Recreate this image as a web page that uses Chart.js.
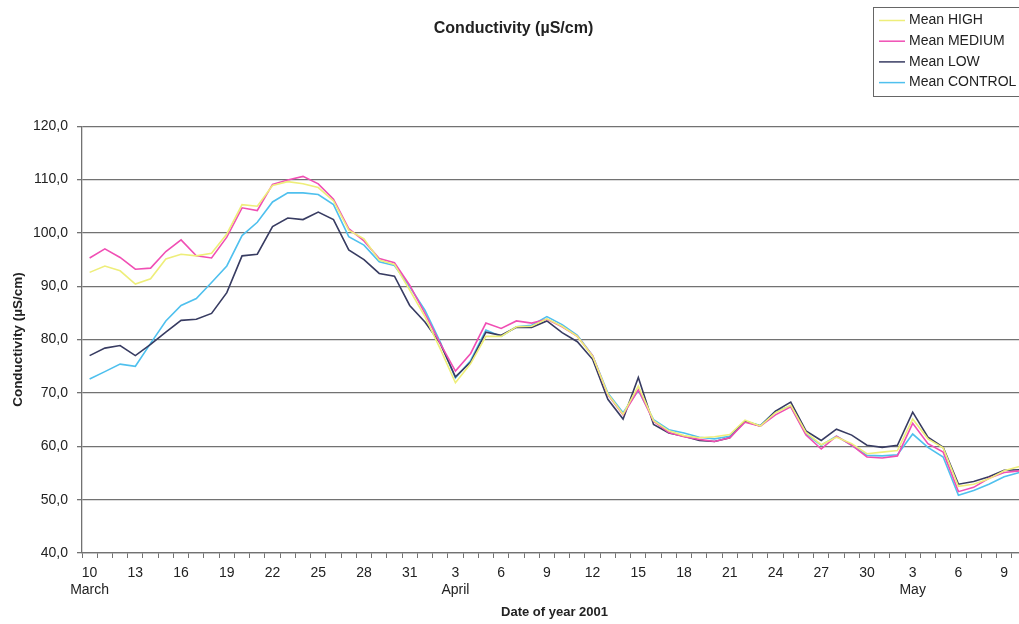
<!DOCTYPE html>
<html>
<head>
<meta charset="utf-8">
<script src="https://cdn.jsdelivr.net/npm/chart.js@4/dist/chart.umd.min.js"></script>
<style>
    html, body { margin:0; padding:0; background:#fff; overflow:hidden; }
    #wrap { width:1035px; height:624px; }
</style>
</head>
<body>
<div id="wrap"><canvas id="cv" width="1035" height="624"></canvas></div>
<script>
// day of month for each sample, 10 March .. 10 May 2001
var days = [10,11,12,13,14,15,16,17,18,19,20,21,22,23,24,25,26,27,28,29,30,31,
            1,2,3,4,5,6,7,8,9,10,11,12,13,14,15,16,17,18,19,20,21,22,23,24,25,26,27,28,29,30,
            1,2,3,4,5,6,7,8,9,10];
// month written under the first label of each month
var monthLabels = {0:"March", 24:"April", 54:"May"};

var meanHigh = [92.6,93.8,92.9,90.4,91.4,95.1,96.0,95.7,96.2,99.8,105.3,105.0,108.9,109.6,109.2,108.5,106.0,
    100.5,98.9,94.9,94.1,89.3,84.3,78.3,71.9,75.5,80.6,80.6,82.4,82.5,83.9,82.5,80.6,76.9,69.8,66.0,71.3,
    64.8,62.9,62.0,61.6,61.8,62.2,64.9,63.8,66.3,67.7,62.6,60.3,61.7,60.5,58.6,58.9,59.2,65.1,61.4,59.7,
    52.5,52.9,53.9,55.4,56.2];
var meanMedium = [95.3,97.0,95.4,93.2,93.4,96.5,98.7,95.7,95.3,99.2,104.7,104.2,109.1,109.9,110.6,109.2,106.3,
    100.8,98.5,95.2,94.4,90.2,84.9,79.3,74.1,77.4,83.1,82.1,83.5,83.1,83.8,82.4,80.6,77.0,69.7,65.9,70.6,
    64.7,62.6,61.8,61.3,60.9,61.6,64.5,63.8,65.9,67.4,62.1,59.5,61.9,60.2,58.0,57.8,58.2,64.3,60.5,58.9,
    51.5,52.3,54.0,55.1,55.4];
var meanLow = [77.0,78.4,78.9,77.0,79.1,81.4,83.6,83.8,84.9,88.8,95.7,96.0,101.2,102.8,102.5,103.9,102.5,
    96.8,95.0,92.4,91.9,86.4,83.3,79.3,73.0,75.8,81.4,80.8,82.3,82.3,83.5,81.3,79.6,76.3,68.8,65.1,72.9,
    64.1,62.5,61.9,61.1,60.9,61.6,64.7,63.8,66.6,68.3,62.9,61.1,63.2,62.1,60.2,59.8,60.2,66.4,61.7,59.8,
    52.9,53.4,54.3,55.5,55.6];
var meanControl = [72.6,74.0,75.4,75.0,79.3,83.5,86.4,87.7,90.7,93.8,99.5,102.0,105.8,107.5,107.5,107.2,105.3,
    99.3,97.7,94.6,93.9,89.9,85.5,79.6,72.8,76.1,81.8,80.6,82.4,82.7,84.3,82.8,80.8,77.0,70.0,66.3,70.5,
    65.0,63.1,62.5,61.7,61.4,61.9,64.7,63.9,66.6,67.5,62.3,60.2,61.9,60.2,58.3,58.2,58.4,62.3,59.8,58.0,
    50.8,51.7,52.9,54.3,55.1];

var seriesNames = ["Mean HIGH","Mean MEDIUM","Mean LOW","Mean CONTROL"];
var seriesColors = ["#eeee7a","#f04fb4","#383c62","#4fc0ee"];

// legend box in the top right corner (cut by the page edge like the scan)
var boxLegend = {
    id : "boxLegend",
    afterDraw : function(chart){
        var ctx = chart.ctx;
        var x = 873, y = 7, w = 162, h = 89;
        ctx.save();
        ctx.strokeStyle = "#666";
        ctx.lineWidth = 1;
        ctx.strokeRect(x + 0.5, y + 0.5, w, h);
        ctx.font = "14px 'Liberation Sans', Arial, sans-serif";
        ctx.textBaseline = "middle";
        var ds = chart.data.datasets;
        for(var i=0;i<ds.length;i++){
            var ly = 20.5 + i * 20.7;
            ctx.strokeStyle = ds[i].borderColor;
            ctx.lineWidth = 1.5;
            ctx.beginPath();
            ctx.moveTo(879, ly);
            ctx.lineTo(905, ly);
            ctx.stroke();
            ctx.fillStyle = "#222";
            ctx.fillText(ds[i].label, 909, ly);
        }
        ctx.restore();
    }
};

function makeDatasets(){
    var values = [meanHigh, meanMedium, meanLow, meanControl];
    var datasets = [];
    for(var i=0;i<values.length;i++){
        datasets.push({
            label : seriesNames[i],
            data : values[i],
            borderColor : seriesColors[i],
            backgroundColor : seriesColors[i],
            borderWidth : 1.6,
            pointRadius : 0,
            tension : 0,
            fill : false
        });
    }
    return datasets;
}

var gridColor = "#727272";

var chart = new Chart(document.getElementById("cv"), {
    type : "line",
    data : {
        labels : days.map(function(d){ return String(d); }),
        datasets : makeDatasets()
    },
    plugins : [boxLegend],
    options : {
        responsive : false,
        animation : false,
        devicePixelRatio : 1,
        layout : { padding : { left:0, right:8, top:0, bottom:0 } },
        plugins : {
            legend : { display:false },
            tooltip : { enabled:false },
            title : {
                display : true,
                text : "Conductivity (µS/cm)",
                color : "#222",
                font : { family:"'Liberation Sans', Arial, sans-serif", size:16, weight:"bold" },
                padding : { top:19, bottom:88 }
            }
        },
        scales : {
            x : {
                type : "category",
                offset : true,
                afterFit : function(s){ s.height = 71; },
                border : { display:true, color:gridColor, width:1.3 },
                grid : { display:true, offset:true, drawOnChartArea:false, drawTicks:true, tickLength:5, color:gridColor },
                ticks : {
                    autoSkip : false,
                    maxRotation : 0,
                    padding : 7,
                    color : "#222",
                    font : { family:"'Liberation Sans', Arial, sans-serif", size:14 },
                    callback : function(v, idx){
                        if(idx % 3 != 0) return "";
                        var d = String(days[idx]);
                        if(monthLabels[idx]) return [d, monthLabels[idx]];
                        return d;
                    }
                },
                title : {
                    display : true,
                    text : "Date of year 2001",
                    color : "#222",
                    font : { family:"'Liberation Sans', Arial, sans-serif", size:13, weight:"bold" },
                    padding : { top:0, bottom:4 }
                }
            },
            y : {
                min : 40,
                max : 120,
                afterFit : function(s){ s.width = 82; },
                border : { display:true, color:gridColor, width:1.3 },
                grid : { color:gridColor, lineWidth:1.3, tickLength:5 },
                ticks : {
                    stepSize : 10,
                    padding : 9,
                    color : "#222",
                    font : { family:"'Liberation Sans', Arial, sans-serif", size:14 },
                    callback : function(v){ return v.toFixed(1).replace(".", ","); }
                },
                title : {
                    display : true,
                    text : "Conductivity (µS/cm)",
                    color : "#222",
                    font : { family:"'Liberation Sans', Arial, sans-serif", size:13.5, weight:"bold" },
                    padding : { top:10, bottom:0 }
                }
            }
        }
    }
});
</script>
</body>
</html>
